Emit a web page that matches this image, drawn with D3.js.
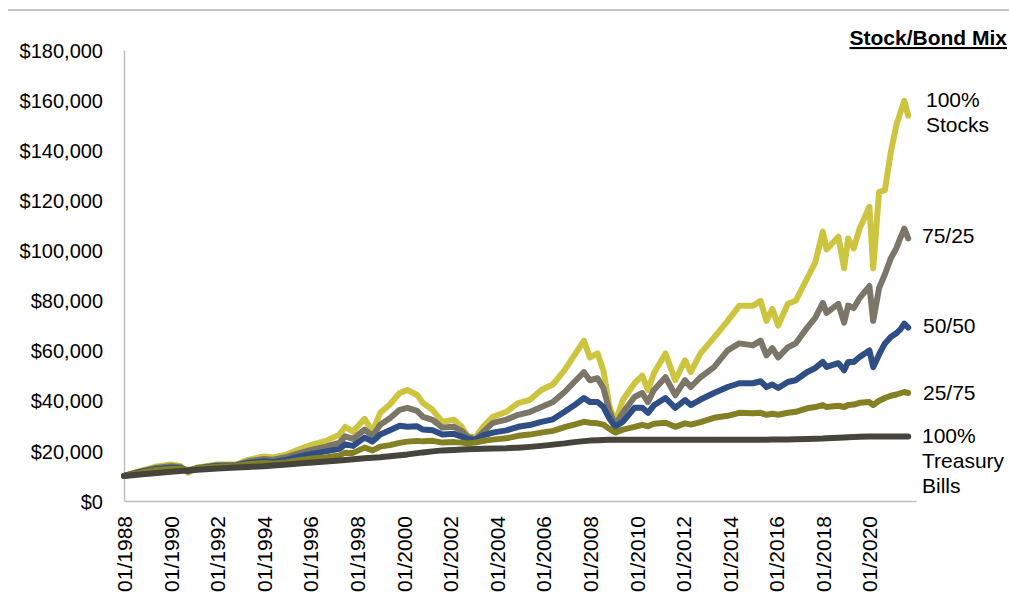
<!DOCTYPE html>
<html>
<head>
<meta charset="utf-8">
<script src="https://cdn.jsdelivr.net/npm/d3@7"></script>
<style>
  body { margin: 0; background: #fff; }
  svg text { font-family: "Liberation Sans", Arial, sans-serif; fill: #000; }
</style>
</head>
<body>
<div id="vis"></div>
<script>
// month of each reading
var dates = ["1988-01","1988-09","1989-06","1990-01","1990-06","1990-10","1991-03","1992-01","1992-11","1993-05",
  "1994-01","1994-06","1995-01","1995-07","1996-02","1996-09","1997-04","1997-07","1997-11","1998-05",
  "1998-09","1999-01","1999-06","1999-11","2000-03","2000-08","2000-11","2001-04","2001-09","2002-03",
  "2002-07","2002-10","2003-02","2003-06","2003-11","2004-06","2004-12","2005-06","2005-12","2006-06",
  "2006-12","2007-05","2007-10","2008-01","2008-05","2008-08","2008-11","2009-02","2009-06","2009-12",
  "2010-04","2010-07","2010-10","2011-04","2011-09","2012-02","2012-05","2012-10","2013-05","2013-12",
  "2014-06","2015-01","2015-05","2015-08","2015-11","2016-02","2016-07","2016-11","2017-05","2017-09",
  "2018-01","2018-03","2018-09","2018-12","2019-02","2019-05","2019-08","2020-01","2020-03","2020-06",
  "2020-09","2020-12","2021-03","2021-05","2021-07","2021-09"]

var stocks100 = [10000,11900,13800,14600,14000,11300,13400,14600,14600,16400,
  17800,17400,18600,20500,22500,24000,26500,29600,27700,32800,
  27700,35200,38500,43100,44300,42300,39100,36400,31600,32400,
  29600,26000,25300,29600,33600,35600,39100,40300,44300,46500,
  52200,58100,64000,57300,58900,52000,38000,31200,40300,47000,
  50000,44300,51000,58900,48200,56100,51400,58900,65200,71900,
  77900,77900,79900,71900,76700,70000,78700,79900,88900,95000,
  107500,100400,105500,92900,104800,100800,108700,117400,92900,123300,
  124100,139100,150200,155000,159700,153800]

var mix7525 = [10000,11700,13300,13900,13600,11800,13200,14300,14400,15800,
  16800,16500,17600,19000,20500,21700,23300,25800,24800,28500,
  26000,30400,33000,36400,37200,36000,33600,32400,29300,29600,
  28000,25700,24500,27500,31200,32500,34400,35500,37500,39500,
  43500,47500,51400,48200,49000,45000,36000,30400,35200,41500,
  43100,39500,44300,49400,42300,48200,45500,49400,53400,60100,
  62900,62100,64000,58100,61000,57300,61300,62900,69200,73000,
  79100,75100,78700,71200,78000,77000,81000,85800,71900,85000,
  90500,96800,101000,105000,108700,104800]

var mix5050 = [10000,11500,12800,13300,13200,12000,13000,14000,14200,15200,
  15900,15600,16500,17700,18900,19800,20800,22600,22000,25300,
  23700,26500,28200,30000,29600,29800,28500,28200,26500,26800,
  25700,24800,24500,26200,27300,28200,29600,30300,31600,32600,
  35600,38200,41100,39500,39500,37500,33000,29600,31600,37200,
  37200,35200,38200,41100,37200,40300,38300,40500,43100,45500,
  47000,47000,47800,45500,46500,45100,47500,48200,51500,53000,
  55500,53500,55000,52200,55500,55500,57500,60100,53400,58500,
  62900,65500,67000,68500,70800,69200]

var mix2575 = [10000,11200,12400,12800,12900,12400,13000,13700,14000,14700,
  15200,14900,15500,16300,17000,17400,18200,19300,19200,21300,
  20200,21700,22300,23200,23700,24000,23800,24000,23300,23500,
  23300,23000,23300,24000,24500,25000,26000,26500,27300,28000,
  29500,30500,31600,31200,31000,30500,28800,27300,28500,29600,
  30400,29800,30800,31200,29600,31000,30500,31500,33200,34000,
  35200,35000,35200,34400,34800,34400,35200,35600,37000,37500,
  38300,37500,38000,37500,38300,38500,39200,39500,38300,40000,
  41100,42000,42500,43000,43500,43100]

var tbills = [10000,10600,11200,11700,12000,12200,12500,13000,13400,13600,
  13900,14200,14600,15000,15400,15800,16200,16400,16700,17100,
  17300,17500,17900,18300,18600,19100,19400,19800,20200,20400,
  20600,20700,20800,20900,21000,21100,21300,21600,22000,22500,
  23000,23500,23900,24100,24200,24300,24400,24400,24400,24400,
  24400,24400,24400,24400,24450,24450,24450,24450,24450,24450,
  24450,24450,24450,24450,24500,24500,24550,24600,24700,24800,
  24900,25000,25200,25300,25400,25500,25600,25700,25750,25750,
  25750,25750,25750,25750,25750,25750]

var seriesNames = ["100% Stocks", "75/25", "50/50", "25/75", "100% Treasury Bills"]
var seriesColors = ["#cdc43f", "#7b7668", "#2f4e86", "#838123", "#47443c"]
var endLabels = [["100%", "Stocks"], ["75/25"], ["50/50"], ["25/75"], ["100%", "Treasury", "Bills"]]
var yTicks = [0, 20000, 40000, 60000, 80000, 100000, 120000, 140000, 160000, 180000]
var tickYears = [1988,1990,1992,1994,1996,1998,2000,2002,2004,2006,2008,2010,2012,2014,2016,2018,2020]

var parseMonth = d3.timeParse("%Y-%m")
var allSeries = [stocks100, mix7525, mix5050, mix2575, tbills]

var svg = d3.select("#vis")
  .append("svg")
    .attr("width", 1009)
    .attr("height", 596)

// thin rule along the top
svg.append("line")
  .attr("x1", 8).attr("x2", 1009)
  .attr("y1", 10).attr("y2", 10)
  .style("stroke", "#c4c4c4")
  .style("stroke-width", 2)

var xScale = d3.scaleTime()
    .domain([new Date(1988, 0, 1), new Date(2022, 0, 1)])
    .range([124, 916])

var yScale = d3.scaleLinear()
    .domain([0, 180000])
    .range([501, 50])

// y axis
var yAxis = svg.append("g")
  .attr("transform", "translate(124,0)")
  .call(d3.axisLeft(yScale)
    .tickValues(yTicks)
    .tickSize(0)
    .tickPadding(21)
    .tickFormat(function(d){ return "$" + d3.format(",")(d) }))
yAxis.select(".domain").style("stroke", "#bfbfbf").style("stroke-width", 1.5)
yAxis.selectAll("text").style("font-size", "20px").attr("dy", "0.36em")

// x axis
var xAxis = svg.append("g")
  .attr("transform", "translate(0,501)")
  .call(d3.axisBottom(xScale)
    .tickValues(tickYears.map(function(y){ return new Date(y, 0, 1) }))
    .tickSize(0)
    .tickFormat(d3.timeFormat("%m/%Y")))
xAxis.select(".domain").style("stroke", "#bfbfbf").style("stroke-width", 1.5)
xAxis.selectAll("text")
  .style("font-size", "21px")
  .style("text-anchor", "end")
  .attr("y", 0)
  .attr("dy", "0.36em")
  .attr("transform", "translate(0,15) rotate(-90)")

var line = d3.line()
  .x(function(d){ return xScale(d.date) })
  .y(function(d){ return yScale(d.value) })

allSeries.forEach(function(vals, i){
  var pts = vals.map(function(v, j){ return {date: parseMonth(dates[j]), value: v} })
  svg.append("path")
    .datum(pts)
    .attr("d", line)
    .style("fill", "none")
    .style("stroke", seriesColors[i])
    .style("stroke-width", 6)
    .style("stroke-linejoin", "round")
    .style("stroke-linecap", "round")
    .attr("class", "series")
    .append("title").text(seriesNames[i])
})

// labels at the right end of the lines
var labelSpots = [{x: 926, y: 107}, {x: 922, y: 243}, {x: 923, y: 333}, {x: 923, y: 400}, {x: 922, y: 443}]
endLabels.forEach(function(lines, i){
  var t = svg.append("text")
    .attr("x", labelSpots[i].x)
    .attr("y", labelSpots[i].y)
    .style("font-size", "21px")
  lines.forEach(function(s, k){
    t.append("tspan")
      .attr("x", labelSpots[i].x)
      .attr("dy", k === 0 ? 0 : 25)
      .text(s)
  })
})

svg.append("text")
  .attr("x", 1007)
  .attr("y", 45)
  .style("text-anchor", "end")
  .style("font-size", "21px")
  .style("font-weight", "bold")
  .style("text-decoration", "underline")
  .text("Stock/Bond Mix")
</script>
</body>
</html>
